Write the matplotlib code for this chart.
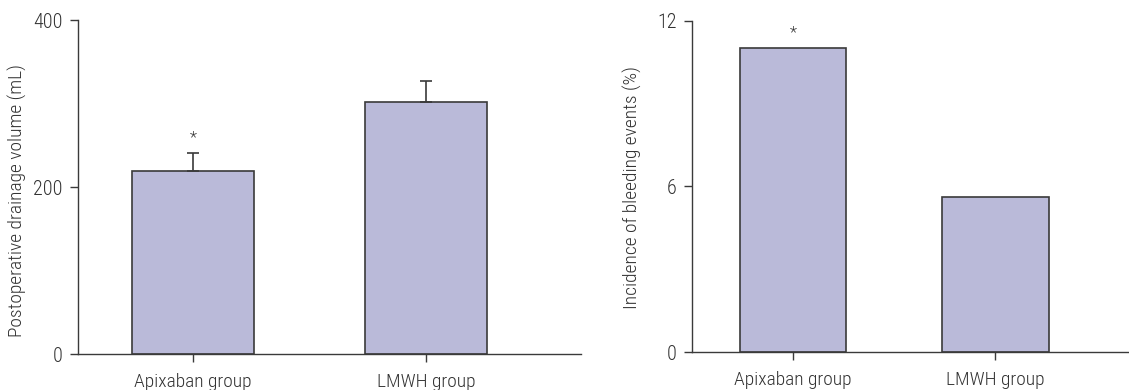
import matplotlib.pyplot as plt

plt.rcParams['font.family'] = ['Roboto Condensed', 'DejaVu Sans']
plt.rcParams['font.stretch'] = 'condensed'
plt.rcParams['font.weight'] = 'light'
plt.rcParams['axes.labelweight'] = 'light'

groups = ['Apixaban group', 'LMWH group']
drainage = [219, 302]
drainage_err = [22, 25]
bleeding = [11.0, 5.6]

bar_color = '#babad9'
edge_color = '#3a3a3a'
text_color = '#333333'

fig = plt.figure(figsize=(11.29, 3.9), dpi=100)
ax1 = fig.add_axes([0.0691, 0.0923, 0.4455, 0.8564])
ax2 = fig.add_axes([0.6127, 0.0974, 0.3873, 0.8495])

x = [0, 1]


def style(ax):
    ax.spines['top'].set_visible(False)
    ax.spines['right'].set_visible(False)
    for s in ['left', 'bottom']:
        ax.spines[s].set_color(edge_color)
        ax.spines[s].set_linewidth(1.0)
    ax.tick_params(direction='out', length=6, width=1.0, color=edge_color,
                   labelcolor=text_color)
    ax.tick_params(axis='x', pad=8, labelsize=14)
    ax.tick_params(axis='y', pad=5, labelsize=14.5)
    ax.set_xticks(x)
    ax.set_xticklabels(groups)


# left: drainage volume
ax1.bar(x, drainage, width=0.524, color=bar_color, edgecolor=edge_color, linewidth=1.2,
        yerr=[[0, 0], drainage_err], capsize=4,
        error_kw=dict(ecolor=edge_color, elinewidth=1.2, capthick=1.2))
ax1.set_xlim(-0.494, 1.665)
ax1.set_ylim(0, 400)
ax1.set_yticks([0, 200, 400])
ax1.set_ylabel('Postoperative drainage volume (mL)', fontsize=14, color=text_color)
ax1.yaxis.set_label_coords(-0.101, 0.461)
ax1.text(0, 259, '*', ha='center', va='center', fontsize=12, color=text_color)
style(ax1)

# right: bleeding events
ax2.bar(x, bleeding, width=0.527, color=bar_color, edgecolor=edge_color, linewidth=1.2)
ax2.set_xlim(-0.5, 1.66)
ax2.set_ylim(0, 12)
ax2.set_yticks([0, 6, 12])
ax2.set_ylabel('Incidence of bleeding events (%)', fontsize=14, color=text_color)
ax2.yaxis.set_label_coords(-0.114, 0.497)
ax2.text(0, 11.56, '*', ha='center', va='center', fontsize=12, color=text_color)
style(ax2)

fig.savefig('out.png', dpi=100)
